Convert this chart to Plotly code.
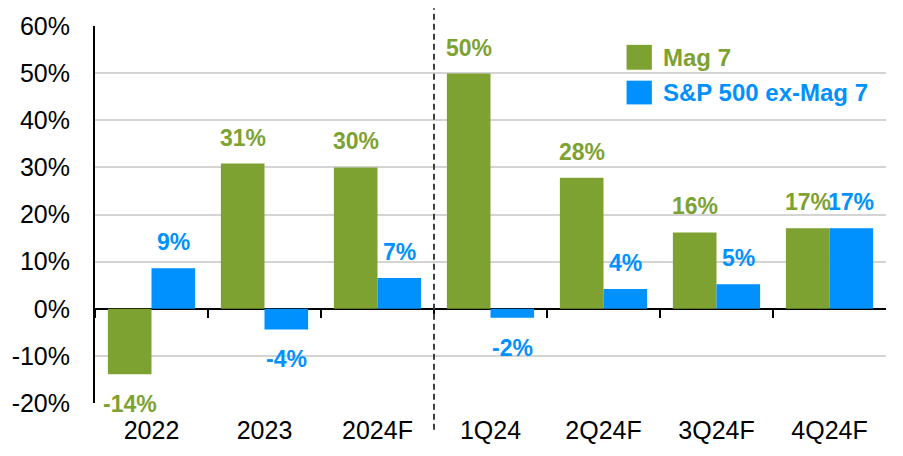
import plotly.graph_objects as go

# data
categories = ["2022", "2023", "2024F", "1Q24", "2Q24F", "3Q24F", "4Q24F"]
mag7 = [-13.9, 30.8, 30.0, 49.9, 27.8, 16.2, 17.1]
ex_mag7 = [8.6, -4.4, 6.5, -1.9, 4.2, 5.2, 17.1]
mag7_labels = ["-14%", "31%", "30%", "50%", "28%", "16%", "17%"]
ex_mag7_labels = ["9%", "-4%", "7%", "-2%", "4%", "5%", "17%"]
y_ticks = [-20, -10, 0, 10, 20, 30, 40, 50, 60]
y_tick_text = ["-20%", "-10%", "0%", "10%", "20%", "30%", "40%", "50%", "60%"]

C_MAG = "#7DA232"
C_EX = "#0091FF"
FONT = "Liberation Sans, Arial, sans-serif"
BAR_GAP = 0.228
half = (1 - BAR_GAP) / 4  # offset of each bar centre from the category centre

fig = go.Figure()
fig.add_trace(go.Bar(name="Mag 7", x=categories, y=mag7, marker_color=C_MAG,
                     marker_line_width=0, showlegend=False, hoverinfo="skip"))
fig.add_trace(go.Bar(name="S&P 500 ex-Mag 7", x=categories, y=ex_mag7, marker_color=C_EX,
                     marker_line_width=0, showlegend=False, hoverinfo="skip"))
# invisible trace so the zero-line axis (ticks on boundaries) gets drawn
fig.add_trace(go.Scatter(x=categories, y=[None] * len(categories), xaxis="x2",
                         mode="markers", showlegend=False, hoverinfo="skip"))

# value labels
for vals, labels, off, color in [(mag7, mag7_labels, -half, C_MAG),
                                 (ex_mag7, ex_mag7_labels, half, C_EX)]:
    for i, (v, t) in enumerate(zip(vals, labels)):
        fig.add_annotation(
            x=i + off, y=v, xref="x", yref="y", text=f"<b>{t}</b>", showarrow=False,
            yanchor="bottom" if v >= 0 else "top", yshift=11 if v >= 0 else -15,
            font=dict(family=FONT, size=23, color=color),
        )

# legend drawn by hand (big squares)
for (y0, y1, ty, name, color) in [(0.884, 0.950, 0.916, "Mag 7", C_MAG),
                                  (0.792, 0.855, 0.823, "S&P 500 ex-Mag 7", C_EX)]:
    fig.add_shape(type="rect", xref="paper", yref="paper", x0=0.672, x1=0.704,
                  y0=y0, y1=y1, fillcolor=color, line_width=0)
    fig.add_annotation(x=0.7155, y=ty, xref="paper", yref="paper", text=f"<b>{name}</b>",
                       showarrow=False, xanchor="left", yanchor="middle",
                       font=dict(family=FONT, size=24, color=color))

# dashed divider between annual and quarterly
fig.add_shape(type="line", xref="x", yref="paper", x0=2.5, x1=2.5, y0=-0.071, y1=1.047,
              line=dict(color="#404040", width=2, dash="6px,4px"))

fig.update_layout(
    barmode="group",
    bargap=BAR_GAP,
    bargroupgap=0,
    width=903, height=456,
    margin=dict(l=88, r=17, t=25, b=52),
    paper_bgcolor="white",
    plot_bgcolor="white",
    font=dict(family=FONT, size=25, color="black"),
    xaxis=dict(type="category", categoryarray=categories, range=[-0.5, 6.5],
               showline=False, showgrid=False, zeroline=False, ticks="",
               ticklabelstandoff=10, tickfont=dict(size=25)),
    # zero-line axis: only used for the small ticks between categories
    xaxis2=dict(type="category", categoryarray=categories, range=[-0.5, 6.497],
                overlaying="x", anchor="free", position=0.25,
                showline=False, showgrid=False, zeroline=False, showticklabels=False,
                ticks="outside", tickson="boundaries", ticklen=8, tickwidth=2,
                tickcolor="black"),
    yaxis=dict(range=[-20, 60], tickmode="array", tickvals=y_ticks, ticktext=y_tick_text,
               showline=True, linecolor="black", linewidth=2,
               showgrid=True, gridcolor="#D4D4D4", gridwidth=2,
               zeroline=True, zerolinecolor="black", zerolinewidth=2,
               ticks="", ticklabelstandoff=18, tickfont=dict(size=25)),
)

fig.write_html("out.html", config={"displayModeBar": False},
               post_script="document.body.style.margin = '0';")
